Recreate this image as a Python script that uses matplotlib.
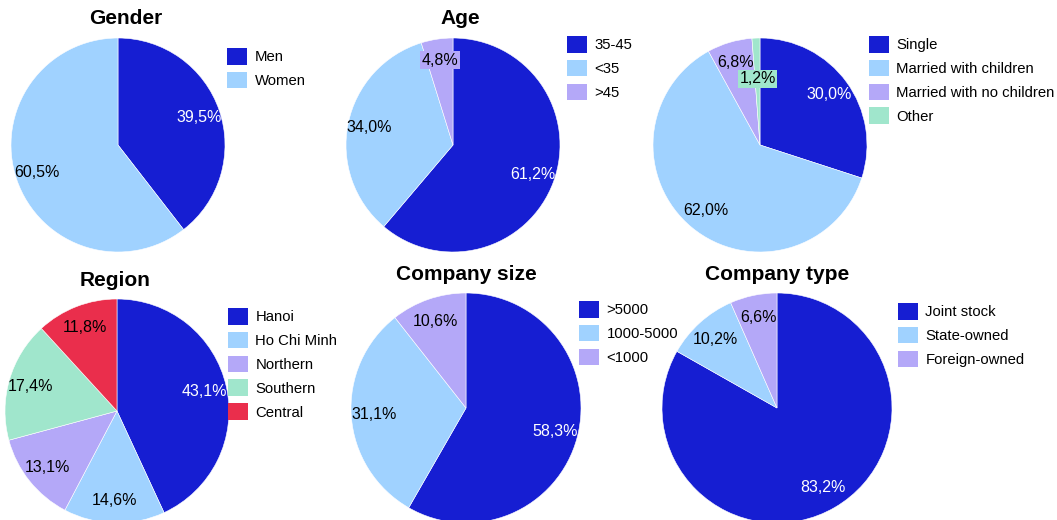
import numpy as np
import matplotlib
matplotlib.use("Agg")
import matplotlib.pyplot as plt
from matplotlib.patches import Patch

plt.rcParams['font.family'] = ['Liberation Sans', 'DejaVu Sans']

W, H = 1057, 520

# colours used by every pie, in slice order
palette = ['#161ED2', '#A0D2FF', '#B4A8F8', '#A0E6CC', '#EA2E4C']

# data
gender_labels = ['Men', 'Women']
gender_values = [39.5, 60.5]

age_labels = ['35-45', '<35', '>45']
age_values = [61.2, 34.0, 4.8]

family_labels = ['Single', 'Married with children', 'Married with no children', 'Other']
family_values = [30.0, 62.0, 6.8, 1.2]

region_labels = ['Hanoi', 'Ho Chi Minh', 'Northern', 'Southern', 'Central']
region_values = [43.1, 14.6, 13.1, 17.4, 11.8]

size_labels = ['>5000', '1000-5000', '<1000']
size_values = [58.3, 31.1, 10.6]

type_labels = ['Joint stock', 'State-owned', 'Foreign-owned']
type_values = [83.2, 10.2, 6.6]

# layout in pixels: title, title x, labels, values, pie centre x/y, radius, legend top-left
panels = [
    ('Gender', 126, gender_labels, gender_values, 118, 145, 107, 227, 48),
    ('Age', 460, age_labels, age_values, 453, 145, 107, 567, 36),
    ('', 760, family_labels, family_values, 760, 145, 107, 869, 36),
    ('Region', 115, region_labels, region_values, 117, 411, 112, 228, 308),
    ('Company size', 466, size_labels, size_values, 466, 408, 115, 579, 301),
    ('Company type', 777, type_labels, type_values, 777, 408, 115, 898, 303),
]

fig = plt.figure(figsize=(W / 100, H / 100), dpi=100)

for title, tx, labels, values, cx, cy, r, lx, ly in panels:
    ax = fig.add_axes([(cx - r) / W, (H - cy - r) / H, 2 * r / W, 2 * r / H])
    cols = palette[:len(values)]
    wedges, _ = ax.pie(values, colors=cols, startangle=90, counterclock=False,
                       wedgeprops=dict(edgecolor='white', linewidth=0.4))
    ax.set_xlim(-1, 1)
    ax.set_ylim(-1, 1)
    ax.set_aspect('equal')

    for w, v, c in zip(wedges, values, cols):
        ang = np.deg2rad((w.theta1 + w.theta2) / 2)
        d = 0.62 if v < 2 else 0.8
        txt = f"{v:.1f}".replace('.', ',') + '%'
        tc = 'white' if c == palette[0] else 'black'
        box = dict(facecolor=c, edgecolor='none', pad=1.0) if v < 5 else None
        ax.text(d * np.cos(ang), d * np.sin(ang), txt, ha='center', va='center',
                fontsize=11.5, color=tc, bbox=box)

    if title:
        ax.set_title(title, x=0.5 + (tx - cx) / (2 * r), fontsize=15,
                     fontweight='bold', pad=10 if cy < 200 else 9)

    handles = [Patch(facecolor=c, edgecolor='none') for c in cols]
    fig.legend(handles, labels, loc='upper left', bbox_to_anchor=(lx / W, 1 - ly / H),
               frameon=False, fontsize=10.7, borderpad=0, borderaxespad=0,
               handlelength=1.35, handleheight=1.35, handletextpad=0.5,
               labelspacing=0.48)

fig.savefig('out.png', dpi=100)
